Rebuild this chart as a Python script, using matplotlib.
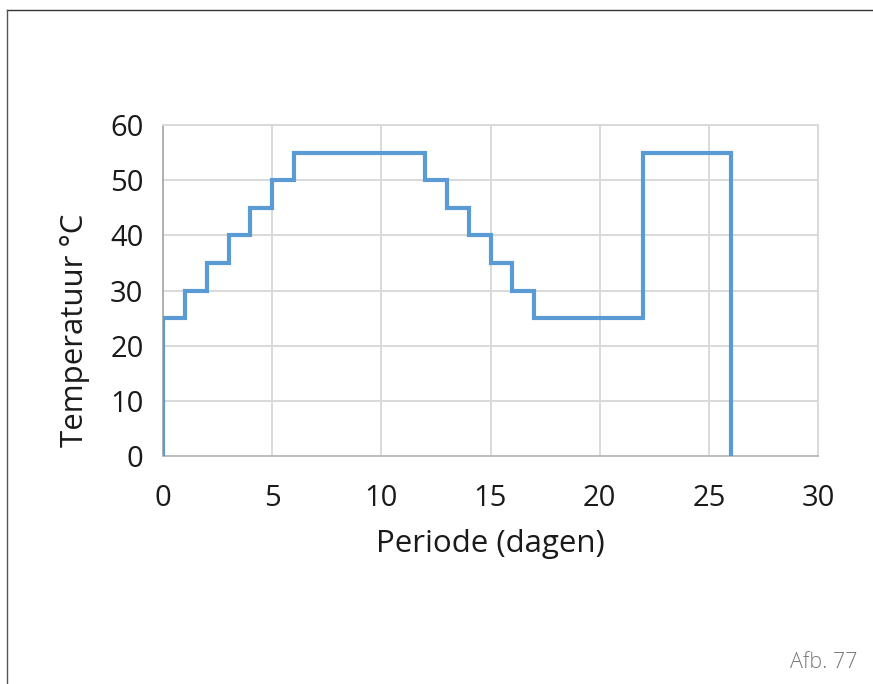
import matplotlib
matplotlib.use("Agg")
import matplotlib.pyplot as plt
from matplotlib.lines import Line2D

# step profile: temperature held from each day until the next entry
days = [0, 0, 1, 2, 3, 4, 5, 6, 12, 13, 14, 15, 16, 17, 22, 26]
temps = [0, 25, 30, 35, 40, 45, 50, 55, 50, 45, 40, 35, 30, 25, 55, 0]

x_ticks = [0, 5, 10, 15, 20, 25, 30]
y_ticks = [0, 10, 20, 30, 40, 50, 60]

plt.rcParams['font.family'] = ['Open Sans', 'DejaVu Sans']

fig = plt.figure(figsize=(8.73, 6.84), dpi=100)
ax = fig.add_axes([163 / 873, 1 - 456 / 684, 655 / 873, 331 / 684])

ax.plot(days, temps, drawstyle='steps-post', color='#5b9bd5',
        linewidth=3.0, solid_joinstyle='miter', zorder=3)

ax.set_xlim(0, 30)
ax.set_ylim(0, 60)
ax.set_xticks(x_ticks)
ax.set_yticks(y_ticks)
ax.grid(True, color='#d9d9d9', linewidth=1.4)
ax.set_axisbelow(True)
ax.tick_params(length=0, labelsize=21, colors='#1a1a1a')
ax.tick_params(axis='x', pad=20)
ax.tick_params(axis='y', pad=14)

for side in ('top', 'right'):
    ax.spines[side].set_color('#d9d9d9')
    ax.spines[side].set_linewidth(1.4)
ax.spines['left'].set_color('#b0b0b0')
ax.spines['bottom'].set_color('#bcbcbc')
ax.spines['left'].set_linewidth(1.4)
ax.spines['bottom'].set_linewidth(1.4)

ax.set_xlabel('Periode (dagen)', fontsize=22.5, color='#1a1a1a', labelpad=12)
ax.set_ylabel('Temperatuur °C', fontsize=22.5, color='#1a1a1a')
ax.yaxis.set_label_coords(-0.111, 0.38)

# page frame lines (top and left)
fig.add_artist(Line2D([7 / 873, 1], [1 - 10 / 684, 1 - 10 / 684],
                      transform=fig.transFigure, color='#333333', linewidth=1.0))
fig.add_artist(Line2D([7 / 873, 7 / 873], [0, 1 - 10 / 684],
                      transform=fig.transFigure, color='#555555', linewidth=1.0))

fig.text(858 / 873, 1 - 662 / 684, 'Afb. 77', ha='right', va='center',
         fontsize=15.5, color='#7a7a7a', fontweight='light')

fig.savefig('out.png', dpi=100)
